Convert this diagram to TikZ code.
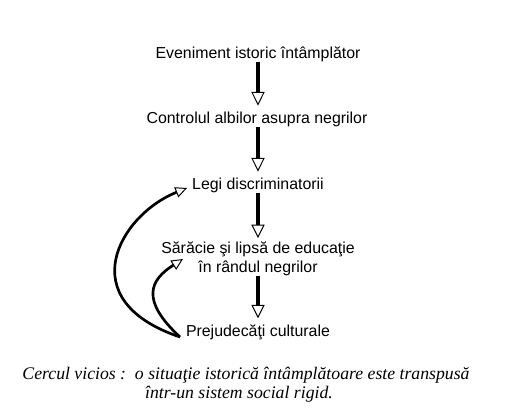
\documentclass[tikz,border=0pt]{standalone}
\usepackage{fontspec}
\setmainfont{Liberation Sans}
\newfontfamily\capfont{Liberation Serif}
\usetikzlibrary{arrows.meta,positioning}
\tikzset{
  stage/.style={inner sep=0pt,font=\fontsize{11.3}{13.5}\selectfont,align=center},
  flow/.style={-{Triangle[open,length=3.4mm,width=3.3mm,line width=.7pt]},line width=2.8pt,draw=black,shorten >=4pt},
  back/.style={-{Triangle[open,length=2.9mm,width=2.7mm,line width=.7pt]},line width=1.9pt,draw=black},
  caption/.style={inner sep=0pt,anchor=base,font=\capfont\itshape\fontsize{12.6}{14}\selectfont},
}
\begin{document}
\begin{tikzpicture}[x=0.025cm,y=-0.025cm]
\useasboundingbox (0,0) rectangle (507,417);
% ============================= chain
\node[stage,anchor=base] (ev) at (258,58) {Eveniment istoric întâmplător};
\node[stage,anchor=base] (ctl) at (257,123) {Controlul albilor asupra negrilor};
\node[stage,anchor=base] (legi) at (258,189) {Legi discriminatorii};
\node[stage,anchor=base] (sar) at (258,272) {Sărăcie şi lipsă de educaţie\\în rândul negrilor};
\node[stage,anchor=base] (prej) at (258,336) {Prejudecăţi culturale};
\coordinate (axis) at (258,0);
\draw[flow] (ev.south -| axis) -- (ctl.north -| axis);
\draw[flow] (ctl.south -| axis) -- (legi.north -| axis);
\draw[flow] (legi.south -| axis) -- ([yshift=-2pt]sar.north -| axis);
\draw[flow] (sar.south -| axis) -- (prej.north -| axis);
% ============================= feedback
\coordinate (root) at (180,337);
\coordinate (legiL) at (187,188);
\coordinate (sarL) at (183,259);
\draw[back] (root) .. controls (70,300) and (120,215) .. (legiL);
\draw[back] (root) .. controls (140,300) and (150,280) .. (sarL);
% ============================= caption
\node[caption] (cap1) at (246,379) {Cercul vicios :\ \ o situaţie istorică întâmplătoare este transpusă};
\node[caption] (cap2) at (239,398) {într-un sistem social rigid.};
\end{tikzpicture}
\end{document}
